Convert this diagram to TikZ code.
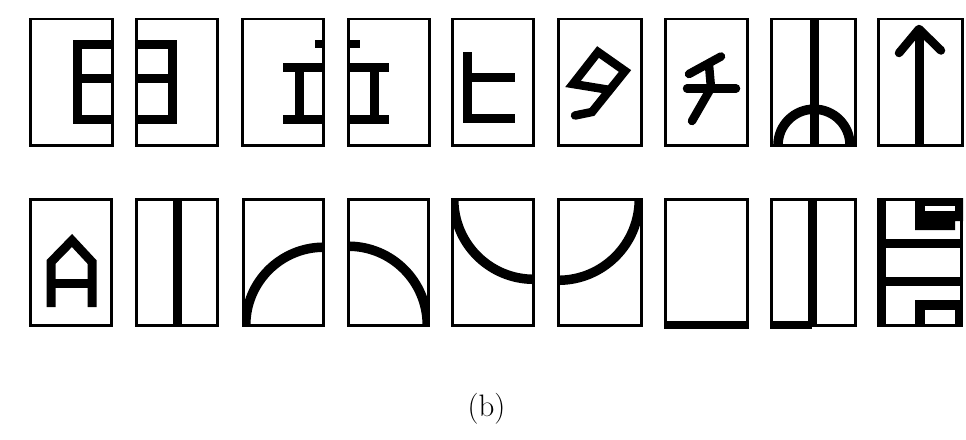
\documentclass[tikz,border=0pt]{standalone}
\begin{document}
\begin{tikzpicture}[x=1pt,y=-1pt,
  tile/.style={draw, line width=2.6pt, inner sep=0pt, outer sep=0pt},
  ink/.style={line width=9pt, line join=miter},
  rk/.style={line width=8.5pt, line cap=round, line join=miter},
  arcink/.style={line width=9.5pt}]
\useasboundingbox[fill=white] (0,0) rectangle (966,439);

% ---- row 1 tiles ----
\node[tile, minimum width=82.5pt, minimum height=126.4pt] (a1) at (71.5,82) {};
\node[tile, minimum width=81.5pt, minimum height=126.4pt] (a2) at (177,82) {};
\node[tile, minimum width=81.5pt, minimum height=126.4pt] (a3) at (283,82) {};
\node[tile, minimum width=81.5pt, minimum height=126.4pt] (a4) at (389,82) {};
\node[tile, minimum width=81.5pt, minimum height=126.4pt] (a5) at (493,82) {};
\node[tile, minimum width=83.5pt, minimum height=126.4pt] (a6) at (600,82) {};
\node[tile, minimum width=82.5pt, minimum height=126.4pt] (a7) at (706.5,82) {};
\node[tile, minimum width=84.5pt, minimum height=126.4pt] (a8) at (813.5,82) {};
\node[tile, minimum width=84.5pt, minimum height=126.4pt] (a9) at (920.5,82) {};

% ---- row 2 tiles ----
\node[tile, minimum width=81.5pt, minimum height=125.9pt] (b1) at (71,262.25) {};
\node[tile, minimum width=81.5pt, minimum height=125.9pt] (b2) at (177,262.25) {};
\node[tile, minimum width=80.5pt, minimum height=125.9pt] (b3) at (283.5,262.25) {};
\node[tile, minimum width=80.5pt, minimum height=125.9pt] (b4) at (388.5,262.25) {};
\node[tile, minimum width=81.5pt, minimum height=125.9pt] (b5) at (493,262.25) {};
\node[tile, minimum width=83.5pt, minimum height=125.9pt] (b6) at (600,262.25) {};
\node[tile, minimum width=82.5pt, minimum height=125.9pt] (b7) at (706.5,262.25) {};
\node[tile, minimum width=84.5pt, minimum height=125.9pt] (b8) at (813.5,262.25) {};
\node[tile, minimum width=83.5pt, minimum height=125.9pt] (b9) at (920,262.25) {};

% ---- row 1 contents ----
% a1, a2 : split 日
\draw[ink] (113,44) -- (77.5,44) -- (77.5,119) -- (113,119);
\draw[ink] (77.5,78.5) -- (113,78.5);
\draw[ink] (136,44) -- (172.5,44) -- (172.5,119) -- (136,119);
\draw[ink] (136,78.5) -- (172.5,78.5);
% a3, a4 : split 立-like
\fill (315,40) rectangle (324,47.5);
\draw[ink] (283,67) -- (324,67);
\draw[ink] (299,67) -- (299,119);
\draw[ink] (283,119) -- (324,119);
\fill (348,40) rectangle (360,47.5);
\draw[ink] (348,67) -- (389,67);
\draw[ink] (374,67) -- (374,119.5);
\draw[ink] (348,119.5) -- (389,119.5);
% a5 : ヒ
\draw[ink] (467,52) -- (467,118) -- (515,118);
\draw[ink] (467,77) -- (515,77);
% a6 : タ
\draw[rk] (610,90) -- (573,84) -- (598,52) -- (625,71) -- (592,112) -- (575,115.5);
% a7 : チ
\draw[rk] (689,74) -- (721,56.5);
\draw[rk] (709,65) -- (711,88) -- (692,121);
\draw[rk] (687,88.5) -- (736,88.5);
% a8 : vertical with half circle
\begin{scope}
\clip (a8.south west) rectangle (a8.north east);
\draw[arcink] (814,145.2) circle[radius=36pt];
\end{scope}
\draw[ink] (814,19) -- (814,145);
% a9 : arrow
\draw[ink] (919,30) -- (919,145);
\draw[rk, line join=round] (899,53) -- (919,29) -- (941,50.5);

% ---- row 2 contents ----
% b1 : A
\draw[ink] (51,307) -- (51,262) -- (72,240.5) -- (92,262) -- (92,307);
\draw[ink] (51,283.5) -- (92,283.5);
% b2 : vertical bar
\draw[ink] (177.3,199) -- (177.3,325);
% b3 - b6 : quarter arcs
\begin{scope}
\clip (b3.south west) rectangle (b3.north east);
\draw[arcink] (b3.south east) circle[radius=78pt];
\end{scope}
\begin{scope}
\clip (b4.south west) rectangle (b4.north east);
\draw[arcink] (b4.south west) circle[radius=79pt];
\end{scope}
\begin{scope}
\clip (b5.south west) rectangle (b5.north east);
\draw[arcink] (b5.north east) circle[radius=80pt];
\end{scope}
\begin{scope}
\clip (b6.south west) rectangle (b6.north east);
\draw[arcink] (b6.north west) circle[radius=81pt];
\end{scope}
% b7 : thick bottom
\fill (664,320.5) rectangle (749,328.5);
% b8 : vertical bar, thick bottom left
\draw[ink] (812.5,199) -- (812.5,325);
\fill (770,320.5) rectangle (812,328.5);
% b9 : maze
\fill (877,198) rectangle (886,326.5);
\draw[ink] (877,243) -- (963,243);
\draw[ink] (877,281) -- (963,281);
\fill (915,198) -- (963,198) -- (963,221) -- (955,221) -- (955,230) -- (915,230) -- cycle;
\fill[white] (925,206) rectangle (955,211);
\fill (915,300) rectangle (963,326.5);
\fill[white] (925,310) rectangle (955,323.5);

% caption
\node[font=\fontsize{31}{33}\selectfont, inner sep=0pt] (cap) at (486.5,409) {(b)};
\end{tikzpicture}
\end{document}
